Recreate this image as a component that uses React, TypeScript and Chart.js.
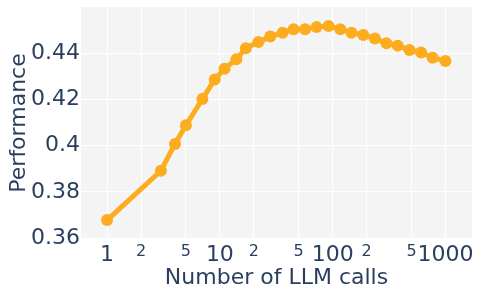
import React, { useEffect, useRef } from 'react';
import { Chart, registerables } from 'chart.js';

Chart.register(...registerables);

const llmCalls = [1, 3, 4, 5, 7, 9, 11, 14, 17, 22, 28, 36, 45, 57, 72, 92, 117, 147, 187, 237, 300, 378, 480, 608, 770, 1000];
const performance = [
  0.3678, 0.3891, 0.4007, 0.4088, 0.4201, 0.4286, 0.4332, 0.4373, 0.4421, 0.4448, 0.4471, 0.4488, 0.4503,
  0.4503, 0.4512, 0.4517, 0.4503, 0.4488, 0.4478, 0.4463, 0.4442, 0.4432, 0.4413, 0.4402, 0.438, 0.4366,
];
const xTickValues = [1, 2, 5, 10, 20, 50, 100, 200, 500, 1000];
const xTickLabels = ['1', '2', '5', '10', '2', '5', '100', '2', '5', '1000'];
const xMajorValues = [1, 10, 100, 1000];
const yTickValues = [0.36, 0.38, 0.4, 0.42, 0.44];
const yTickLabels = ['0.36', '0.38', '0.4', '0.42', '0.44'];

const FONT = 'DejaVu Sans';
const TEXT = '#2a3f5f';
const ORANGE = 'rgb(253,172,32)';

const plotBg = {
  id: 'plotBg',
  beforeDraw(chart: any) {
    const { ctx, chartArea } = chart;
    if (!chartArea) return;
    ctx.save();
    ctx.fillStyle = '#f4f4f4';
    ctx.fillRect(chartArea.left, chartArea.top, chartArea.right - chartArea.left, chartArea.bottom - chartArea.top);
    ctx.restore();
  },
};

export default function App() {
  const canvasRef = useRef<HTMLCanvasElement | null>(null);

  useEffect(() => {
    if (!canvasRef.current) return;
    const chart = new Chart(canvasRef.current, {
      type: 'line',
      data: {
        datasets: [
          {
            data: llmCalls.map((x, i) => ({ x, y: performance[i] })),
            borderColor: ORANGE,
            backgroundColor: ORANGE,
            pointBackgroundColor: ORANGE,
            pointBorderWidth: 0,
            pointRadius: 6,
            borderWidth: 5,
            tension: 0,
          },
        ],
      },
      options: {
        animation: false,
        responsive: true,
        maintainAspectRatio: false,
        layout: { padding: { top: 7, right: 3, left: 0, bottom: 0 } },
        plugins: { legend: { display: false }, tooltip: { enabled: false } },
        scales: {
          x: {
            type: 'logarithmic',
            min: 0.587,
            max: 1720,
            afterBuildTicks: (scale: any) => {
              scale.ticks = xTickValues.map((v) => ({ value: v }));
            },
            afterFit: (scale: any) => {
              scale.height = 49;
              scale.paddingLeft = 0;
              scale.paddingRight = 0;
            },
            grid: { color: '#ffffff', lineWidth: 1, drawTicks: false },
            border: { display: false },
            ticks: {
              autoSkip: false,
              maxRotation: 0,
              padding: 3,
              color: TEXT,
              callback: (_v: any, i: number) => xTickLabels[i],
              font: (ctx: any) => ({
                family: FONT,
                size: ctx.tick && xMajorValues.includes(ctx.tick.value) ? 22 : 16,
              }),
            },
            title: {
              display: true,
              text: 'Number of LLM calls',
              color: TEXT,
              font: { family: FONT, size: 22, lineHeight: 0.9 },
              padding: { top: 0, bottom: 0 },
            },
          },
          y: {
            type: 'linear',
            min: 0.3596,
            max: 0.4599,
            afterBuildTicks: (scale: any) => {
              scale.ticks = yTickValues.map((v) => ({ value: v }));
            },
            afterFit: (scale: any) => {
              scale.width = 81;
              scale.paddingTop = 0;
              scale.paddingBottom = 0;
            },
            grid: { color: '#ffffff', lineWidth: 1, drawTicks: false },
            border: { display: false },
            ticks: {
              padding: 1,
              color: TEXT,
              callback: (_v: any, i: number) => yTickLabels[i],
              font: { family: FONT, size: 22 },
            },
            title: {
              display: true,
              text: 'Performance',
              color: TEXT,
              font: { family: FONT, size: 22 },
              padding: { top: 6, bottom: 0 },
            },
          },
        },
      },
      plugins: [plotBg],
    });
    return () => chart.destroy();
  }, []);

  return (
    <div style={{ position: 'absolute', left: 0, top: 0, width: 478, height: 288 }}>
      <canvas ref={canvasRef} />
    </div>
  );
}
